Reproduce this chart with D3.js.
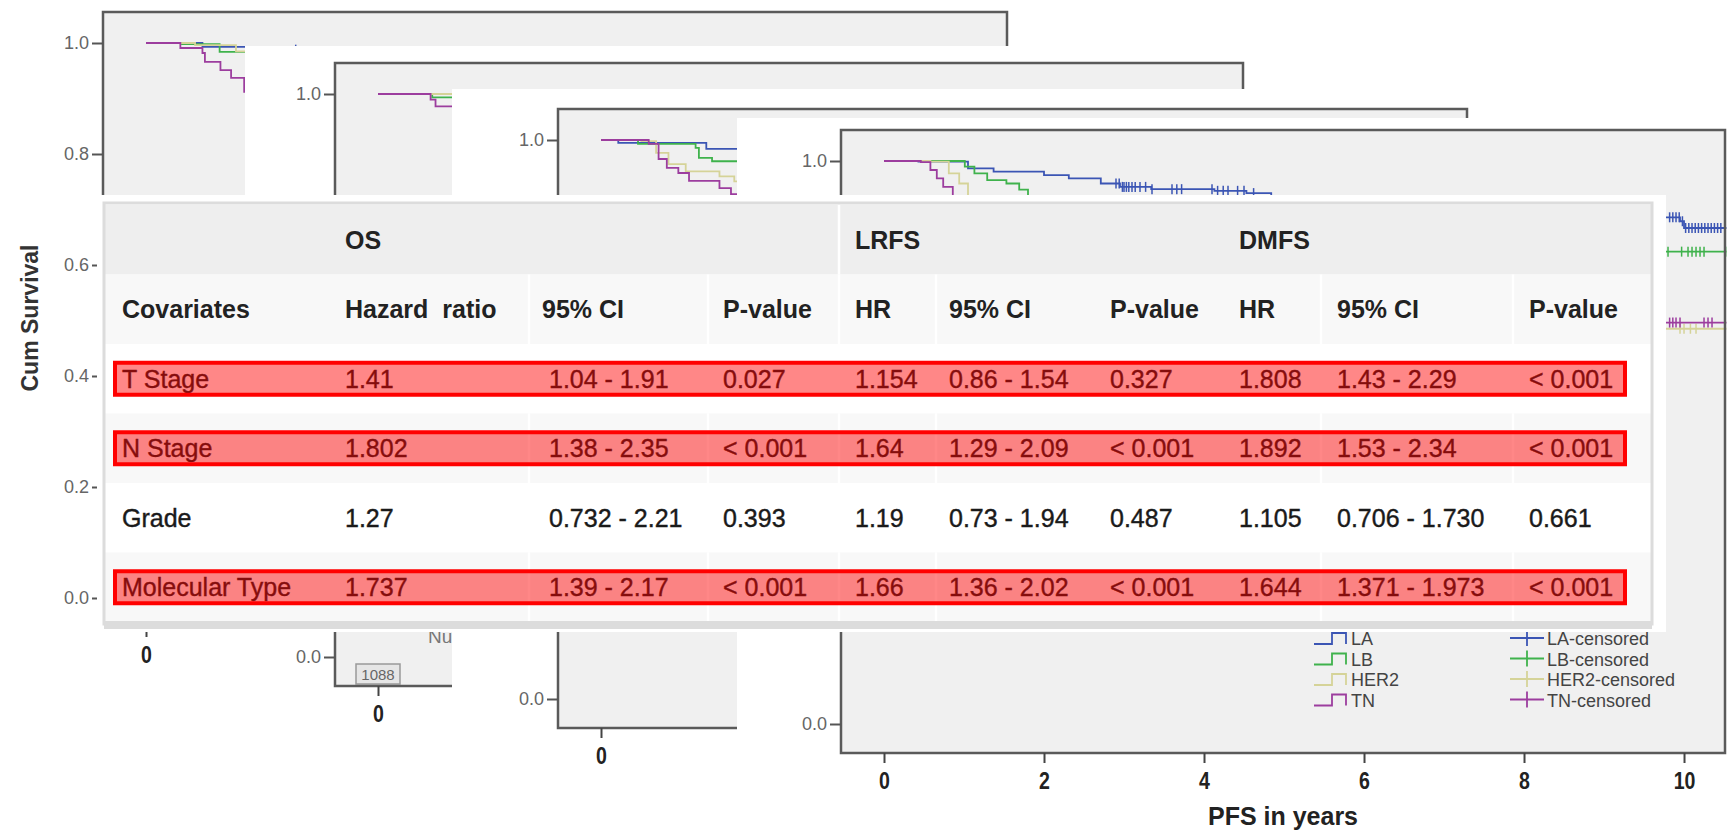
<!DOCTYPE html>
<html>
<head>
<meta charset="utf-8">
<script src="https://cdn.jsdelivr.net/npm/d3@7"></script>
<style>
body{margin:0;background:#fff;}
svg{display:block;font-family:"Liberation Sans",Arial,sans-serif;}
text{white-space:pre;}
</style>
</head>
<body>
<svg id="chart" width="1730" height="832"></svg>
<script>
let groups = ['LA', 'LB', 'HER2', 'TN'];
let yTicks = [0, 0.2, 0.4, 0.6, 0.8, 1.0];
let xTicks = [0, 2, 4, 6, 8, 10];

// survival steps [years, cum survival]
let p1LA = [[0,1],[0.69,0.993],[1.6,0.988],[3,0.96],[6,0.93]];
let p1LB = [[0,1],[0.44,0.998],[0.9,0.984],[2,0.96],[5,0.91]];
let p1HER2 = [[0,1],[0.6,0.996],[1.1,0.985],[2.5,0.9],[5,0.82]];
let p1TN = [[0,1],[0.42,0.991],[0.69,0.982],[0.72,0.966],[0.91,0.951],[1.04,0.937],[1.2,0.912],[2,0.84],[5,0.76]];
let p1CensLA = [1.83];

let p2LA = [[0,1],[2,0.97],[5,0.94]];
let p2LB = [[0,1],[0.66,0.994],[2,0.95],[5,0.9]];
let p2HER2 = [[0,1],[1.0,0.97],[3,0.88]];
let p2TN = [[0,1],[0.64,0.99],[0.7,0.978],[2,0.88],[5,0.8]];
let p2AtRisk = [1088];

let p3LA = [[0,1],[0.21,0.995],[1.28,0.984],[3,0.96],[6,0.93],[9,0.91]];
let p3LB = [[0,1],[0.45,0.993],[1.15,0.986],[1.19,0.968],[1.35,0.962],[3,0.91],[6,0.87]];
let p3HER2 = [[0,1],[0.49,0.998],[0.67,0.977],[0.82,0.957],[1.03,0.944],[1.44,0.935],[1.62,0.926],[3,0.82],[6,0.76]];
let p3TN = [[0,1],[0.58,0.993],[0.70,0.966],[0.80,0.95],[0.94,0.941],[1.07,0.927],[1.44,0.914],[1.58,0.903],[3,0.8],[6,0.75]];

let p4LA = [[0,1],[0.43,0.999],[1.05,0.987],[1.37,0.981],[2.0,0.975],[2.31,0.969],[2.71,0.96],[2.95,0.954],[3.34,0.95],[4.13,0.947],[4.53,0.943],[4.84,0.936],[6.2,0.925],[8.1,0.91],[9.75,0.9],[9.95,0.893],[10.0,0.881],[10.53,0.881]];
let p4LB = [[0,1],[1.01,0.99],[1.13,0.978],[1.29,0.966],[1.53,0.96],[1.69,0.949],[1.8,0.936],[2.4,0.91],[3.3,0.88],[5.0,0.855],[7.5,0.839],[10.53,0.839]];
let p4HER2 = [[0,1],[0.58,0.999],[0.81,0.978],[0.94,0.96],[1.05,0.936],[1.6,0.86],[2.5,0.78],[3.5,0.74],[5.5,0.71],[7.5,0.702],[10.53,0.702]];
let p4TN = [[0,1],[0.46,0.998],[0.58,0.984],[0.66,0.969],[0.74,0.954],[0.86,0.936],[1.3,0.85],[2.0,0.78],[3.0,0.74],[5.0,0.72],[7.0,0.713],[10.53,0.713]];
let p4CensLA = [2.9,2.94,2.98,3.0,3.03,3.06,3.1,3.14,3.2,3.27,3.35,3.6,3.66,3.72,4.1,4.17,4.24,4.3,4.42,4.5,4.62,9.82,9.86,9.9,9.94,9.98,10.02,10.06,10.1,10.14,10.18,10.22,10.26,10.3,10.34,10.38,10.42,10.46];
let p4CensLB = [9.8,9.97,10.05,10.1,10.15,10.2,10.25,10.52];
let p4CensHER2 = [9.95,10.0,10.08,10.15];
let p4CensTN = [9.82,9.86,9.9,9.95,10.25,10.3,10.35];

// Cox table
let groupHeaders = ['OS', 'LRFS', 'DMFS'];
let columnHeaders = ['Covariates', 'Hazard  ratio', '95% CI', 'P-value', 'HR', '95% CI', 'P-value', 'HR', '95% CI', 'P-value'];
let covariates = ['T Stage', 'N Stage', 'Grade', 'Molecular Type'];
let osHR = ['1.41', '1.802', '1.27', '1.737'];
let osCI = ['1.04 - 1.91', '1.38 - 2.35', '0.732 - 2.21', '1.39 - 2.17'];
let osP = ['0.027', '< 0.001', '0.393', '< 0.001'];
let lrfsHR = ['1.154', '1.64', '1.19', '1.66'];
let lrfsCI = ['0.86 - 1.54', '1.29 - 2.09', '0.73 - 1.94', '1.36 - 2.02'];
let lrfsP = ['0.327', '< 0.001', '0.487', '< 0.001'];
let dmfsHR = ['1.808', '1.892', '1.105', '1.644'];
let dmfsCI = ['1.43 - 2.29', '1.53 - 2.34', '0.706 - 1.730', '1.371 - 1.973'];
let dmfsP = ['< 0.001', '< 0.001', '0.661', '< 0.001'];
let highlighted = ['T Stage', 'N Stage', 'Molecular Type'];

let colors = {LA: '#3b55b4', LB: '#3fb24c', HER2: '#d5d398', TN: '#9c3d9e'};

let svg = d3.select('#chart');

let panels = [
    {frame: [103, 12, 1007, 627], series: [p1LA, p1LB, p1HER2, p1TN], cens: [p1CensLA, [], [], []]},
    {frame: [335, 63, 1243, 686], back: [245, 46, 1250, 735], series: [p2LA, p2LB, p2HER2, p2TN], cens: [[], [], [], []]},
    {frame: [558, 109, 1467, 728], back: [452, 89, 1475, 775], series: [p3LA, p3LB, p3HER2, p3TN], cens: [[], [], [], []]},
    {frame: [841, 130, 1725, 753], back: [737, 118, 1730, 832], series: [p4LA, p4LB, p4HER2, p4TN], cens: [p4CensLA, p4CensLB, p4CensHER2, p4CensTN]}
];

let survAt = (pts, t) => {
    let s = 1;
    pts.forEach(p => { if (p[0] <= t) s = p[1] });
    return s;
};

panels.forEach((p, k) => {
    let [x0, y0, x1, y1] = p.frame;
    let g = svg.append('g');
    let front = k === panels.length - 1;

    if (p.back) {
        g.append('rect')
            .attr('x', p.back[0]).attr('y', p.back[1])
            .attr('width', p.back[2] - p.back[0]).attr('height', p.back[3] - p.back[1])
            .attr('fill', '#fff');
    }
    g.append('rect')
        .attr('x', x0).attr('y', y0)
        .attr('width', x1 - x0).attr('height', y1 - y0)
        .attr('fill', '#f0f0f0');

    let x = d3.scaleLinear().domain([0, 10]).range([x0 + 43, x0 + 43 + (x1 - x0) * 0.905]);
    let y = d3.scaleLinear().domain([0, 1]).range([y1 - 29, y0 + 31]);

    let line = d3.line()
        .x(d => x(d[0]))
        .y(d => y(d[1]))
        .curve(d3.curveStepAfter);

    groups.forEach((grp, i) => {
        g.append('path')
            .datum(p.series[i])
            .attr('d', line)
            .attr('fill', 'none')
            .attr('stroke', colors[grp])
            .attr('stroke-width', 1.8);
        g.selectAll(null)
            .data(p.cens[i])
            .enter()
            .append('line')
            .attr('x1', t => x(t)).attr('x2', t => x(t))
            .attr('y1', t => y(survAt(p.series[i], t)) - 5)
            .attr('y2', t => y(survAt(p.series[i], t)) + 5)
            .attr('stroke', colors[grp])
            .attr('stroke-width', 1.5);
    });

    if (k === 1) {
        // number at risk, mostly hidden behind the next panel
        g.append('text')
            .attr('x', 428).attr('y', y1 - 43)
            .attr('font-size', 19).attr('fill', '#777')
            .text('Nu');
        let risk = g.selectAll(null).data(p2AtRisk).enter().append('g')
            .attr('transform', (d, j) => 'translate(' + x(xTicks[j]) + ',' + (y1 - 12) + ')');
        risk.append('rect')
            .attr('x', -22).attr('y', -10).attr('width', 44).attr('height', 20)
            .attr('fill', '#e6e6e6').attr('stroke', '#999').attr('stroke-width', 1.5);
        risk.append('text')
            .attr('text-anchor', 'middle').attr('y', 6)
            .attr('font-size', 15).attr('fill', '#666')
            .text(d => d);
    }

    g.append('rect')
        .attr('x', x0).attr('y', y0)
        .attr('width', x1 - x0).attr('height', y1 - y0)
        .attr('fill', 'none')
        .attr('stroke', '#5a5a5a')
        .attr('stroke-width', 2.5);

    // labels that sit under the table or the next panel are left blank
    let yFmt = d => (k === 0 || d === 0 || d === 1) ? d3.format('.1f')(d) : '';
    let yAxis = g.append('g')
        .attr('transform', 'translate(' + x0 + ',0)')
        .call(d3.axisLeft(y).tickValues(yTicks).tickFormat(yFmt).tickSize(11).tickPadding(3));
    yAxis.select('.domain').remove();
    yAxis.selectAll('line').attr('stroke', '#555').attr('stroke-width', 2);
    yAxis.selectAll('text').attr('font-size', 18).attr('fill', '#666').attr('font-family', null);

    let xFmt = d => (front || d === 0) ? d : '';
    let xAxis = g.append('g')
        .attr('transform', 'translate(0,' + y1 + ')')
        .call(d3.axisBottom(x).tickValues(xTicks).tickFormat(xFmt).tickSize(10).tickPadding(10));
    xAxis.select('.domain').remove();
    xAxis.selectAll('line').attr('stroke', '#444').attr('stroke-width', 2);
    xAxis.selectAll('text')
        .attr('font-size', 23).attr('font-weight', 'bold').attr('fill', '#222')
        .attr('font-family', null)
        .attr('transform', 'scale(0.85,1)');

    if (front) {
        g.append('text')
            .attr('x', (x0 + x1) / 2).attr('y', y1 + 72)
            .attr('text-anchor', 'middle')
            .attr('font-size', 25).attr('font-weight', 'bold').attr('fill', '#222')
            .text('PFS in years');

        let legend = g.selectAll(null).data(groups).enter().append('g')
            .attr('transform', (d, i) => 'translate(1314,' + (638 + i * 20.5) + ')');
        legend.append('path')
            .attr('d', 'M0,6H18V-5H32V6')
            .attr('fill', 'none')
            .attr('stroke', d => colors[d]).attr('stroke-width', 1.8);
        legend.append('text')
            .attr('x', 37).attr('y', 7)
            .attr('font-size', 18).attr('fill', '#444')
            .text(d => d);
        legend.append('path')
            .attr('d', 'M196,0H230M213,-8V8')
            .attr('stroke', d => colors[d]).attr('stroke-width', 1.8);
        legend.append('text')
            .attr('x', 233).attr('y', 7)
            .attr('font-size', 18).attr('fill', '#444')
            .text(d => d + '-censored');
    }
});

svg.append('text')
    .attr('transform', 'translate(38,318) rotate(-90)')
    .attr('text-anchor', 'middle')
    .attr('font-size', 23).attr('font-weight', 'bold').attr('fill', '#333')
    .text('Cum Survival');

// ---- table overlay ----
let tableRows = covariates.map((c, i) => [c, osHR[i], osCI[i], osP[i], lrfsHR[i], lrfsCI[i], lrfsP[i], dmfsHR[i], dmfsCI[i], dmfsP[i]]);
let colX = [122, 345, 542, 723, 855, 949, 1110, 1239, 1337, 1529];
let dataX = colX.slice();
dataX[2] = 549;
let groupCols = [1, 4, 7];
let dividers = [529, 708, 839, 936, 1321, 1513];
let rowFill = ['#eeeeee', '#f8f8f8', '#ffffff', '#f8f8f8', '#ffffff', '#f8f8f8'];

let row = d3.scaleBand().domain(d3.range(2 + covariates.length)).range([205, 622]);
let base = i => row(i) + row.bandwidth() / 2 + 9;

let tg = svg.append('g');
tg.append('rect')
    .attr('x', 97).attr('y', 195).attr('width', 1569).attr('height', 437)
    .attr('fill', '#fff');

tg.selectAll('.rowbg')
    .data(row.domain())
    .enter()
    .append('rect')
    .attr('class', 'rowbg')
    .attr('x', 104).attr('y', i => row(i))
    .attr('width', 1548).attr('height', row.bandwidth())
    .attr('fill', i => rowFill[i]);

row.domain().forEach(i => {
    tg.selectAll(null)
        .data(i === 0 ? [839] : dividers)
        .enter()
        .append('line')
        .attr('x1', d => d).attr('x2', d => d)
        .attr('y1', row(i)).attr('y2', row(i) + row.bandwidth())
        .attr('stroke', '#fff').attr('stroke-width', 2.5);
});

tg.append('rect')
    .attr('x', 104).attr('y', 203).attr('width', 1548).attr('height', 421)
    .attr('fill', 'none').attr('stroke', '#dcdcdc').attr('stroke-width', 3);
tg.append('rect')
    .attr('x', 104).attr('y', 621).attr('width', 1548).attr('height', 8)
    .attr('fill', '#dcdcdc');

tg.selectAll('.grp')
    .data(groupHeaders)
    .enter()
    .append('text')
    .attr('x', (d, i) => colX[groupCols[i]]).attr('y', base(0))
    .attr('font-size', 25).attr('font-weight', 'bold').attr('fill', '#222')
    .text(d => d);

tg.selectAll('.colhead')
    .data(columnHeaders)
    .enter()
    .append('text')
    .attr('x', (d, i) => colX[i]).attr('y', base(1))
    .attr('font-size', 25).attr('font-weight', 'bold').attr('fill', '#222')
    .text(d => d);

tableRows.forEach((r, ri) => {
    tg.selectAll(null)
        .data(r)
        .enter()
        .append('text')
        .attr('x', (d, ci) => dataX[ci]).attr('y', base(ri + 2))
        .attr('font-size', 25).attr('fill', '#1a1a1a')
        .attr('stroke', '#1a1a1a').attr('stroke-width', 0.4)
        .text(d => d);
});

tg.selectAll('.hl')
    .data(covariates.filter(c => highlighted.includes(c)))
    .enter()
    .append('rect')
    .attr('x', 115)
    .attr('y', c => base(covariates.indexOf(c) + 2) - 25)
    .attr('width', 1510).attr('height', 32)
    .attr('fill', 'rgba(255,0,0,0.47)')
    .attr('stroke', '#ff0000').attr('stroke-width', 4);
</script>
</body>
</html>
